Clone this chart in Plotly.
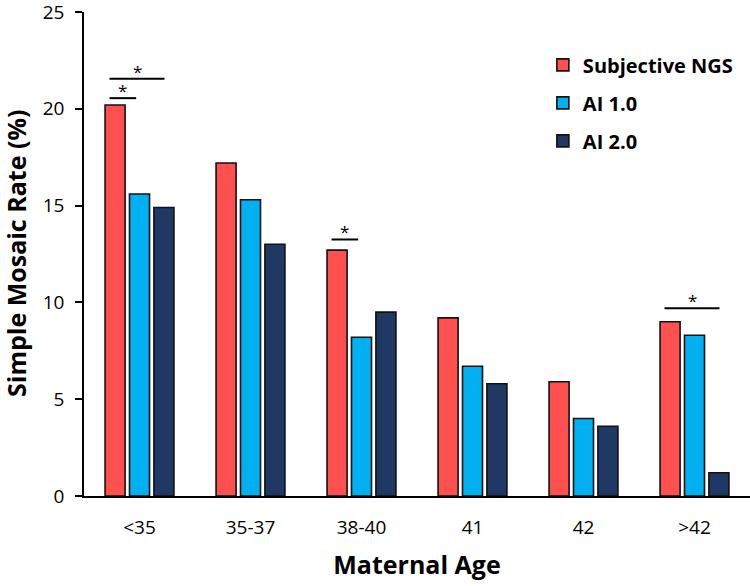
import plotly.graph_objects as go

categories = ["<35", "35-37", "38-40", "41", "42", ">42"]
subjective_ngs = [20.2, 17.2, 12.7, 9.2, 5.9, 9.0]
ai_1_0 = [15.6, 15.3, 8.2, 6.7, 4.0, 8.3]
ai_2_0 = [14.9, 13.0, 9.5, 5.8, 3.6, 1.2]
series_names = ["Subjective NGS", "AI 1.0", "AI 2.0"]
y_ticks = [0, 5, 10, 15, 20, 25]

# significance brackets: category index, span (start bar, end bar), height
sig_category = [0, 0, 2, 5]
sig_span = [("red", "blue"), ("red", "navy"), ("red", "blue"), ("red", "navy")]
sig_height = [20.55, 21.55, 13.25, 9.7]

colors = {"red": "#FF5050", "blue": "#00B0F0", "navy": "#203864"}
font_family = "Open Sans"

fig = go.Figure()
for name, vals, key in zip(series_names, [subjective_ngs, ai_1_0, ai_2_0], ["red", "blue", "navy"]):
    fig.add_trace(go.Bar(
        name=name, x=categories, y=vals,
        marker=dict(color=colors[key], line=dict(color="#111111", width=1.6)),
        legendgroup=name,
    ))

span_left = {"red": -0.27}
span_right = {"blue": -0.03, "navy": 0.225}
for c, (a, b), h in zip(sig_category, sig_span, sig_height):
    x0 = c + span_left[a]
    x1 = c + span_right[b]
    fig.add_shape(type="line", xref="x", yref="y", x0=x0, x1=x1, y0=h, y1=h,
                  line=dict(color="black", width=2))
    fig.add_annotation(x=(x0 + x1) / 2, y=h, xref="x", yref="y", text="*",
                       showarrow=False, yanchor="bottom", yshift=-6,
                       font=dict(family=font_family, size=17, color="black"))

# y-axis title
fig.add_annotation(x=0, y=0.5, xref="paper", yref="paper", text="Simple Mosaic Rate (%)",
                   textangle=-90, showarrow=False, xanchor="center", yanchor="middle",
                   xshift=-68,
                   font=dict(family=font_family, size=25, color="black", weight="bold"))

fig.update_layout(
    width=750, height=586,
    margin=dict(l=84, r=0, t=12, b=90),
    plot_bgcolor="white", paper_bgcolor="white",
    barmode="group", bargap=0.34, bargroupgap=0.18,
    font=dict(family=font_family, color="black"),
    legend=dict(x=0.689, y=0.931, xanchor="left", yanchor="top",
                font=dict(family=font_family, size=20, color="black", weight="bold"),
                traceorder="grouped", tracegroupgap=9, bgcolor="rgba(0,0,0,0)"),
    xaxis=dict(
        type="category", showline=True, linecolor="black", linewidth=1.5, automargin=False,
        ticks="", showgrid=False, tickfont=dict(size=19, family=font_family),
        ticklabelstandoff=13,
        title=dict(text="Maternal Age", font=dict(size=25, family=font_family, weight="bold"), standoff=18),
    ),
    yaxis=dict(
        range=[0, 25], tickvals=y_ticks, showline=True, linecolor="black", linewidth=1.5,
        automargin=False, ticklabeloverflow="allow", ticklabelstandoff=7,
        ticks="outside", ticklen=7, tickwidth=1.5, tickcolor="black", showgrid=False,
        zeroline=False, tickfont=dict(size=19, family=font_family),
    ),
)

fig.write_html("out.html", config={"displayModeBar": False},
               post_script="document.body.style.margin='0';")
